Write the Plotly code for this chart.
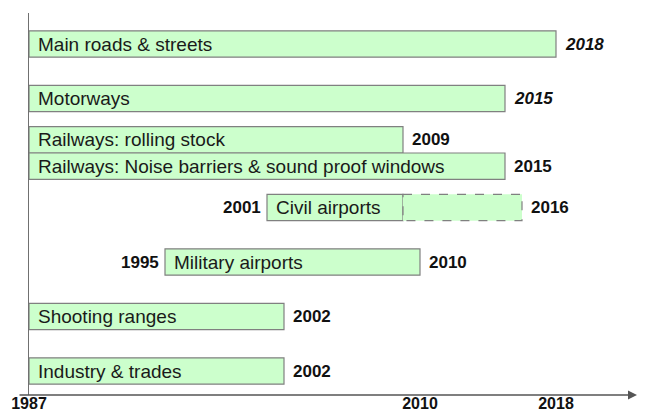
import plotly.graph_objects as go

# ---------------- data ----------------
labels = [
    "Main roads & streets",
    "Motorways",
    "Railways: rolling stock",
    "Railways: Noise barriers & sound proof windows",
    "Civil airports",
    "Military airports",
    "Shooting ranges",
    "Industry & trades",
]
start_year = [1987, 1987, 1987, 1987, 2001, 1995, 1987, 1987]
end_year = [2018, 2015, 2009, 2015, 2016, 2010, 2002, 2002]
dashed_from = [None, None, None, None, 2009, None, None, None]
tick_years = [1987, 2010, 2018]
axis_start = 1987

# ---------------- layout helpers ----------------
W, H = 645, 414
ML, MR, MT, MB = 29, 8, 13, 19
PX_PER_YEAR = 17.0
SLOT_PX = 54.5
BAR_H = 0.485
FONT = "Liberation Sans, Arial, sans-serif"
FILL = "#ccffcc"
EDGE = "#808080"

keys = [l.split(":")[0] for l in labels]
slots = []
for k in keys:
    if k not in slots:
        slots.append(k)
ypos = []
for i, k in enumerate(keys):
    members = [j for j, kk in enumerate(keys) if kk == k]
    n = len(members)
    idx = members.index(i)
    ypos.append(slots.index(k) + (idx - (n - 1) / 2) * BAR_H)

solid_end = [d if d is not None else e for d, e in zip(dashed_from, end_year)]

fig = go.Figure()
fig.add_trace(go.Bar(
    y=ypos,
    x=[se - s for se, s in zip(solid_end, start_year)],
    base=start_year,
    orientation="h",
    width=BAR_H,
    marker=dict(color=FILL, line=dict(color=EDGE, width=1.2)),
    hoverinfo="skip",
    showlegend=False,
))

shapes = []
annotations = []
italic_rows = {"Main roads & streets", "Motorways"}
for lab, s, e, d, y in zip(labels, start_year, end_year, dashed_from, ypos):
    if d is not None:
        shapes.append(dict(
            type="rect", xref="x", yref="y",
            x0=d, x1=e, y0=y - BAR_H / 2, y1=y + BAR_H / 2,
            fillcolor=FILL, line=dict(color=EDGE, width=1.2, dash="dash"),
            layer="above",
        ))
    annotations.append(dict(
        x=s, y=y, xref="x", yref="y", text=lab, showarrow=False,
        xanchor="left", yanchor="middle", xshift=7,
        font=dict(family=FONT, size=19, color="#1a1a1a"),
    ))
    etxt = f"<b><i>{e}</i></b>" if lab in italic_rows else f"<b>{e}</b>"
    annotations.append(dict(
        x=e, y=y, xref="x", yref="y", text=etxt, showarrow=False,
        xanchor="left", yanchor="middle", xshift=7,
        font=dict(family=FONT, size=17, color="#111111"),
    ))
    if s > axis_start:
        annotations.append(dict(
            x=s, y=y, xref="x", yref="y", text=f"<b>{s}</b>", showarrow=False,
            xanchor="right", yanchor="middle", xshift=-4,
            font=dict(family=FONT, size=17, color="#111111"),
        ))

# horizontal axis line with arrow head
plot_w = W - ML - MR
annotations.append(dict(
    x=1, y=0, xref="paper", yref="paper", ax=-(plot_w + 11), ay=0,
    axref="pixel", ayref="pixel", text="", showarrow=True,
    arrowhead=2, arrowsize=1.2, arrowwidth=1.5, arrowcolor="#555555",
    standoff=0, startstandoff=0,
))

plot_h = H - MT - MB
top_off = 31 / SLOT_PX
y_bottom = len(slots) - 1 + (plot_h - 31 - (len(slots) - 1) * SLOT_PX) / SLOT_PX

fig.update_layout(
    width=W, height=H,
    margin=dict(l=ML, r=MR, t=MT, b=MB, autoexpand=False),
    paper_bgcolor="white", plot_bgcolor="white",
    barmode="overlay",
    shapes=shapes,
    annotations=annotations,
    xaxis=dict(
        range=[axis_start, axis_start + plot_w / PX_PER_YEAR],
        tickvals=tick_years,
        ticktext=[f"<b>{t}</b>" for t in tick_years],
        tickfont=dict(family=FONT, size=16, color="#111111"),
        ticklabelstandoff=-3,
        ticks="", showgrid=False, zeroline=False, showline=False,
        automargin=False,
    ),
    yaxis=dict(
        range=[y_bottom, -top_off],
        showticklabels=False, ticks="", showgrid=False, zeroline=False,
        showline=True, linecolor="#707070", linewidth=1,
        automargin=False,
    ),
)

fig.write_html("out.html")
